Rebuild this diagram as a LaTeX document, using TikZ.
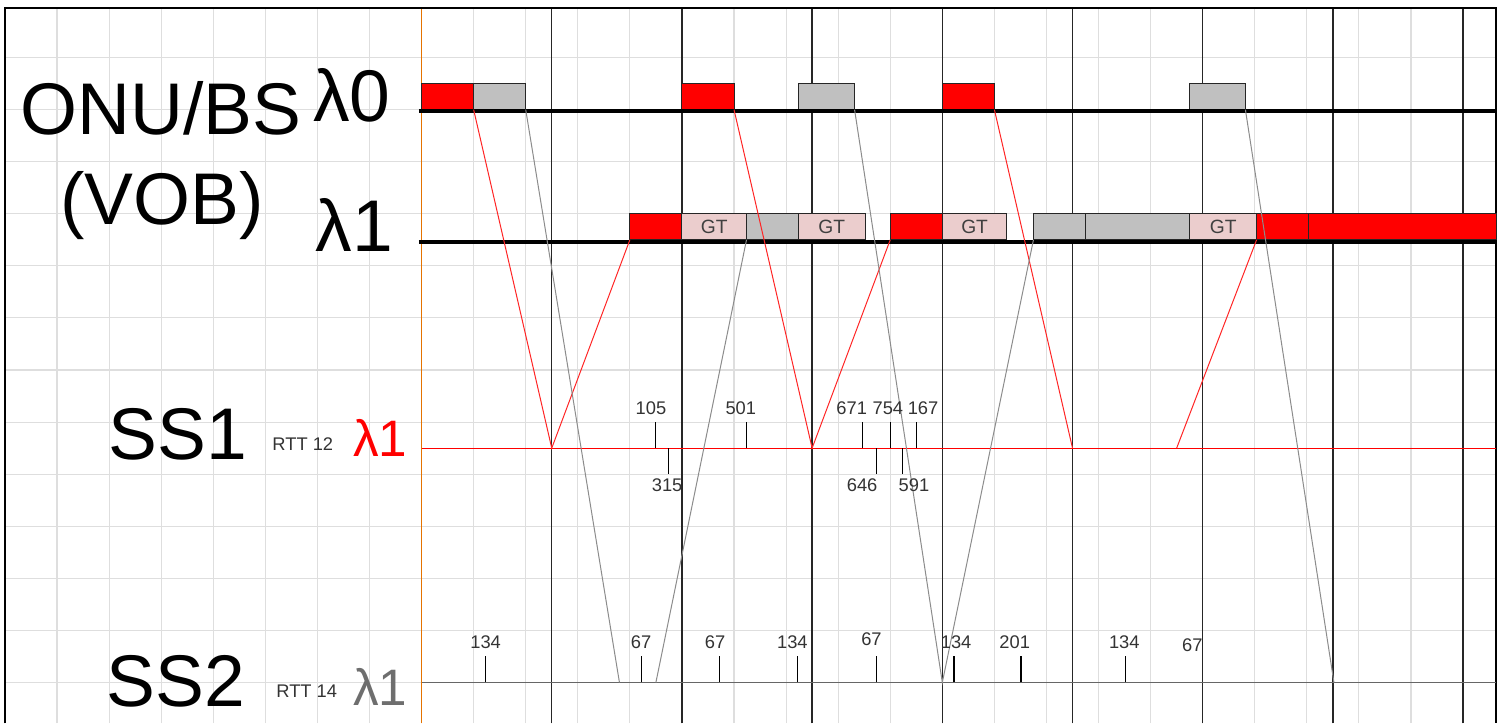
\documentclass[tikz,border=0pt]{standalone}
\usepackage{fontspec}
\setmainfont{Liberation Sans}
\definecolor{gtpink}{HTML}{EBCDCD}
\definecolor{slotgray}{HTML}{C0C0C0}
\definecolor{tickgray}{HTML}{333333}
\tikzset{
  gridline/.style={draw=black!13, line width=0.6pt},
  majorline/.style={draw=black!85, line width=0.8pt},
  frameline/.style={draw=black, line width=1pt},
  axisline/.style={draw=black, line width=2.2pt},
  slot/.style={draw=black!85, line width=0.5pt, minimum height=0.5cm, inner sep=0pt, outer sep=0pt, anchor=south west},
  redslot/.style={slot, fill=red},
  grayslot/.style={slot, fill=slotgray},
  gtslot/.style={slot, fill=gtpink, font=\fontsize{10.5}{12}\selectfont, text=black!75},
  redsig/.style={draw=red!85, line width=0.55pt},
  graysig/.style={draw=black!45, line width=0.55pt},
  tickmark/.style={draw=black, line width=0.6pt},
  biglabel/.style={font=\fontsize{40}{44}\selectfont, inner sep=0pt, anchor=base west},
  midlabel/.style={font=\fontsize{28}{32}\selectfont, inner sep=0pt, anchor=base west},
  rttlabel/.style={font=\fontsize{10}{12}\selectfont, text=tickgray, inner sep=0pt, anchor=base west},
  numlabel/.style={font=\fontsize{10}{12}\selectfont, text=tickgray, inner sep=0pt}
}
\begin{document}
\begin{tikzpicture}[x=0.5cm,y=0.5cm]
\useasboundingbox (-16.19,-1.57) rectangle (41.61,26.21);
\draw[gridline] (-16,-1.57) grid (41.27,25.9);
\draw[draw=orange!90!black, line width=0.6pt] (0,-1.57) -- (0,25.9);
\draw[majorline] (5,-1.57) -- (5,25.9);
\draw[majorline] (10,-1.57) -- (10,25.9);
\draw[majorline] (15,-1.57) -- (15,25.9);
\draw[majorline] (20,-1.57) -- (20,25.9);
\draw[majorline] (25,-1.57) -- (25,25.9);
\draw[majorline] (30,-1.57) -- (30,25.9);
\draw[majorline] (35,-1.57) -- (35,25.9);
\draw[majorline] (40,-1.57) -- (40,25.9);
\draw[frameline] (-16,-1.57) -- (-16,25.9) -- (41.27,25.9) -- (41.27,-1.57);

\node[biglabel] (onu) at (-15.42,21.03) {ONU/BS};
\node[biglabel] (lam0) at (-4.17,21.53) {λ0};
\node[biglabel] (vob) at (-13.88,17.59) {(VOB)};
\node[biglabel] (lam1) at (-4.09,16.56) {λ1};
\node[biglabel] (ss1) at (-12.04,8.58) {SS1};
\node[rttlabel] (rtt12) at (-5.74,8.9) {RTT 12};
\node[midlabel, text=red] (lam1red) at (-2.64,8.66) {λ1};
\node[biglabel] (ss2) at (-12.12,-0.92) {SS2};
\node[rttlabel] (rtt14) at (-5.59,-0.57) {RTT 14};
\node[midlabel, text=black!57] (lam1gray) at (-2.64,-0.87) {λ1};

\node[redslot, minimum width=1cm] (r0a) at (0,22) {};
\node[grayslot, minimum width=1cm] (g0a) at (2,22) {};
\node[redslot, minimum width=1cm] (r0b) at (10,22) {};
\node[grayslot, minimum width=1.075cm] (g0b) at (14.48,22) {};
\node[redslot, minimum width=1cm] (r0c) at (20,22) {};
\node[grayslot, minimum width=1.07cm] (g0c) at (29.5,22) {};

\node[redslot, minimum width=1cm] (r1a) at (8,17) {};
\node[gtslot, minimum width=1.24cm] (gt1a) at (10,17) {GT};
\node[grayslot, minimum width=1cm] (g1a) at (12.48,17) {};
\node[gtslot, minimum width=1.275cm] (gt1b) at (14.48,17) {GT};
\node[redslot, minimum width=1cm] (r1b) at (18,17) {};
\node[gtslot, minimum width=1.24cm] (gt1c) at (20,17) {GT};
\node[grayslot, minimum width=1cm] (g1b) at (23.5,17) {};
\node[grayslot, minimum width=2cm] (g1c) at (25.5,17) {};
\node[gtslot, minimum width=1.285cm] (gt1d) at (29.5,17) {GT};
\node[redslot, minimum width=1cm] (r1c) at (32.07,17) {};
\node[redslot, minimum width=3.6cm] (r1d) at (34.07,17) {};

\draw[axisline] (-0.1,21.95) -- (41.27,21.95);
\draw[axisline] (-0.1,16.9) -- (41.27,16.9);
\draw[draw=red, line width=0.55pt] (0,9) -- (41.27,9);
\draw[draw=black!60, line width=0.6pt] (0,0) -- (41.27,0);

\coordinate (s1a) at (5,9);
\coordinate (s1b) at (15,9);
\coordinate (s1c) at (25,9);
\coordinate (s1d) at (29,9);
\coordinate (s2a) at (7.6,0);
\coordinate (s2b) at (9,0);
\coordinate (s2c) at (20,0);
\coordinate (s2d) at (35.04,0);
\draw[redsig] (r0a.south east) -- (s1a) -- (r1a.south west);
\draw[redsig] (r0b.south east) -- (s1b) -- (r1b.south west);
\draw[redsig] (r0c.south east) -- (s1c);
\draw[redsig] (s1d) -- (r1c.south west);
\draw[graysig] (g0a.south east) -- (s2a);
\draw[graysig] (s2b) -- (g1a.south west);
\draw[graysig] (g0b.south east) -- (s2c) -- (g1b.south west);
\draw[graysig] (g0c.south east) -- (s2d);

\draw[tickmark] (9,9) -- (9,10);
\draw[tickmark] (12.49,9) -- (12.49,10);
\draw[tickmark] (16.94,9) -- (16.94,10);
\draw[tickmark] (18,9) -- (18,10);
\draw[tickmark] (19.02,9) -- (19.02,10);
\draw[tickmark] (9.48,9) -- (9.48,8);
\draw[tickmark] (17.48,9) -- (17.48,8);
\draw[tickmark] (18.48,9) -- (18.48,8);
\node[numlabel] (n105) at (8.81,10.54) {105};
\node[numlabel] (n501) at (12.26,10.54) {501};
\node[numlabel] (n671) at (16.52,10.54) {671};
\node[numlabel] (n754) at (17.91,10.54) {754};
\node[numlabel] (n167) at (19.26,10.54) {167};
\node[numlabel] (n315) at (9.43,7.59) {315};
\node[numlabel] (n646) at (16.92,7.59) {646};
\node[numlabel] (n591) at (18.91,7.59) {591};

\draw[tickmark] (2.46,0) -- (2.46,1);
\draw[tickmark] (8.46,0) -- (8.46,1);
\draw[tickmark] (11.45,0) -- (11.45,1);
\draw[tickmark] (14.45,0) -- (14.45,1);
\draw[tickmark] (17.47,0) -- (17.47,1);
\draw[tickmark] (20.45,0) -- (20.45,1);
\draw[tickmark] (23.02,0) -- (23.02,1);
\draw[tickmark] (27.03,0) -- (27.03,1);
\node[numlabel] (m134a) at (2.46,1.53) {134};
\node[numlabel] (m67a) at (8.43,1.53) {67};
\node[numlabel] (m67b) at (11.27,1.53) {67};
\node[numlabel] (m134b) at (14.24,1.53) {134};
\node[numlabel] (m67c) at (17.28,1.66) {67};
\node[numlabel] (m134c) at (20.53,1.53) {134};
\node[numlabel] (m201) at (22.78,1.53) {201};
\node[numlabel] (m134d) at (26.99,1.53) {134};
\node[numlabel] (m67d) at (29.6,1.43) {67};
\end{tikzpicture}
\end{document}
